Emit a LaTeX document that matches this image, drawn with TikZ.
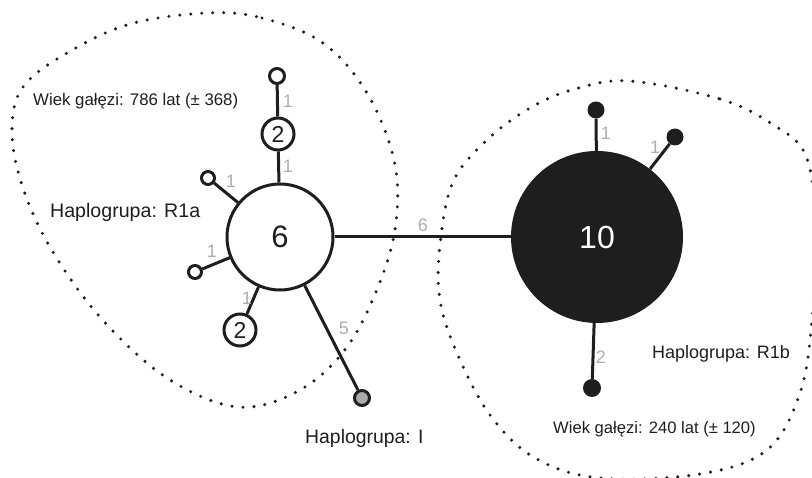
\documentclass[tikz,border=0pt]{standalone}
\usepackage{fontspec}
\setmainfont{Liberation Sans}
\definecolor{ink}{HTML}{1E1E1E}
\definecolor{countgray}{HTML}{ADADAD}
\definecolor{outgroup}{HTML}{ABABAB}
\begin{document}
\begin{tikzpicture}[x=1pt,y=-1pt,
  edge/.style={line width=3pt, draw=ink},
  hap/.style={circle, draw=ink, line width=3pt, fill=white, inner sep=0pt, text=ink},
  hapdark/.style={circle, fill=ink, inner sep=0pt, text=white},
  outline/.style={line width=3.4pt, draw=ink, line cap=round, dash pattern=on 0pt off 11pt},
  mut/.style={text=countgray, inner sep=0pt, font=\fontsize{18}{18}\selectfont},
  caption/.style={text=ink, inner sep=0pt, anchor=west}]
\useasboundingbox (0,0) rectangle (812,478);

% haplogroup boundaries
\draw[outline] plot[smooth cycle, tension=0.6] coordinates {
  (207,13) (262,18) (323,43) (367,93) (394,160) (396,222) (380,282)
  (347,347) (300,390) (238,407) (167,378) (100,317) (50,247) (22,185)
  (12,130) (23,87) (67,53) (130,24)};
\draw[outline] plot[smooth cycle, tension=0.6] coordinates {
  (630,81) (720,99) (772,124) (806,156) (816,230) (812,320) (800,393)
  (767,450) (700,474) (600,478) (535,458) (490,415) (457,353) (440,300)
  (440,245) (453,182) (487,140) (530,108) (575,89)};

% R1a cluster
\node[hap, minimum size=106pt, font=\fontsize{31}{31}\selectfont] (six) at (280,237) {6};
\node[hap, minimum size=32pt, font=\fontsize{23}{23}\selectfont] (twoA) at (278,134) {2};
\node[hap, minimum size=15pt] (tipA) at (277,76) {};
\node[hap, minimum size=13pt] (tipB) at (208,178) {};
\node[hap, minimum size=13pt] (tipC) at (195,272) {};
\node[hap, minimum size=32pt, font=\fontsize{23}{23}\selectfont] (twoB) at (240,330) {2};
\node[hap, fill=outgroup, minimum size=15pt] (haploI) at (362,398) {};

% R1b cluster
\node[hapdark, minimum size=172pt, font=\fontsize{32}{32}\selectfont] (ten) at (597,237) {10};
\node[hapdark, minimum size=17pt] (dotA) at (596,110) {};
\node[hapdark, minimum size=17pt] (dotB) at (675,137) {};
\node[hapdark, minimum size=18pt] (dotC) at (592,388) {};

% connectors
\draw[edge] (tipA) -- (twoA);
\draw[edge] (twoA) -- (six);
\draw[edge] (tipB) -- (six);
\draw[edge] (tipC) -- (six);
\draw[edge] (twoB) -- (six);
\draw[edge] (haploI) -- (six);
\draw[edge] (six) -- (ten);
\draw[edge] (dotA) -- (ten);
\draw[edge] (dotB) -- (ten);
\draw[edge] (dotC) -- (ten);

% mutation counts
\node[mut] (mA) at (288,101) {1};
\node[mut] (mB) at (288,166) {1};
\node[mut] (mC) at (231,181) {1};
\node[mut] (mD) at (212,251) {1};
\node[mut] (mE) at (247,298) {1};
\node[mut] (mF) at (344,328) {5};
\node[mut] (mG) at (423,225) {6};
\node[mut] (mH) at (606,133) {1};
\node[mut] (mI) at (655,147) {1};
\node[mut] (mJ) at (601,357) {2};

% captions
\node[caption, font=\fontsize{16.8}{16.8}\selectfont] (ageA) at (33,101) {Wiek gałęzi: 786 lat (± 368)};
\node[caption, font=\fontsize{19.6}{19.6}\selectfont] (grpA) at (50,212) {Haplogrupa: R1a};
\node[caption, font=\fontsize{19.4}{19.4}\selectfont] (grpI) at (305,438) {Haplogrupa: I};
\node[caption, font=\fontsize{18}{18}\selectfont] (grpB) at (652,354) {Haplogrupa: R1b};
\node[caption, font=\fontsize{16.6}{16.6}\selectfont] (ageB) at (553,429) {Wiek gałęzi: 240 lat (± 120)};
\end{tikzpicture}
\end{document}
